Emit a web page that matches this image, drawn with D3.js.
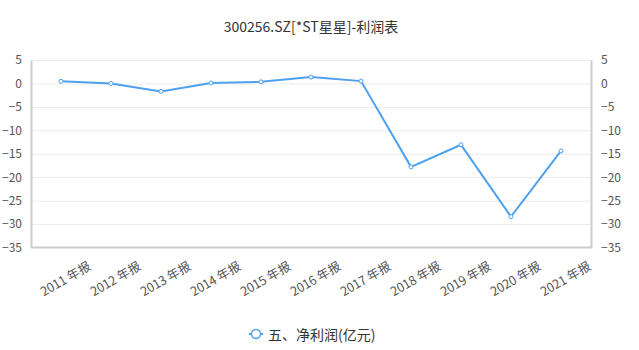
<!DOCTYPE html>
<html>
<head>
<meta charset="utf-8">
<script src="https://cdn.jsdelivr.net/npm/d3@7"></script>
<style>
  body { margin: 0; background: #fff; }
  svg { font-family: "Microsoft YaHei", "Noto Sans CJK SC", sans-serif; }
</style>
</head>
<body>
<div id="chart"></div>
<script>
// data
var years = ["2011 年报", "2012 年报", "2013 年报", "2014 年报", "2015 年报", "2016 年报",
             "2017 年报", "2018 年报", "2019 年报", "2020 年报", "2021 年报"];
var netProfit = [0.45, 0.0, -1.7, 0.1, 0.35, 1.35, 0.5, -17.8, -13.1, -28.4, -14.4];
var yTicks = [5, 0, -5, -10, -15, -20, -25, -30, -35];

var width = 639, height = 350;
var plotLeft = 31, plotRight = 591, plotTop = 60, plotBottom = 247.5;
var color = "#4ea1ef";

var svg = d3.select("#chart").append("svg")
  .attr("width", width)
  .attr("height", height);

var x = d3.scalePoint().domain(years).range([plotLeft, plotRight]).padding(0.6);
var y = d3.scaleLinear().domain([-35, 5]).range([plotBottom, plotTop]);

// title
svg.append("text")
  .attr("x", 311).attr("y", 32)
  .attr("text-anchor", "middle")
  .attr("font-size", "14px")
  .style("fill", "#333")
  .text("300256.SZ[*ST星星]-利润表");

// grid
svg.append("g").selectAll("line")
  .data(yTicks.filter(function(d){ return d != -35; }))
  .enter().append("line")
  .attr("x1", plotLeft).attr("x2", plotRight)
  .attr("y1", function(d){ return y(d) + 0.5; })
  .attr("y2", function(d){ return y(d) + 0.5; })
  .style("stroke", "#ebebeb");

// axes
var yl = svg.append("g").attr("transform", "translate(" + plotLeft + ",0)")
  .call(d3.axisLeft(y).tickValues(yTicks).tickSize(0).tickPadding(9));
var yr = svg.append("g").attr("transform", "translate(" + plotRight + ",0)")
  .call(d3.axisRight(y).tickValues(yTicks).tickSize(0).tickPadding(10));
[yl, yr].forEach(function(g){
  g.select(".domain").style("stroke", "#ccc").style("stroke-width", 2);
  g.selectAll("text").attr("font-size", "12px").style("fill", "#555")
    .attr("font-family", "\"Microsoft YaHei\", \"Noto Sans CJK SC\", sans-serif");
});

svg.append("line")
  .attr("x1", plotLeft).attr("x2", plotRight + 1)
  .attr("y1", plotBottom).attr("y2", plotBottom)
  .style("stroke", "#ccc").style("stroke-width", 2);

// x labels
svg.append("g").selectAll("text")
  .data(years)
  .enter().append("text")
  .attr("transform", function(d){ return "translate(" + (x(d) + 28) + ",264) rotate(-30)"; })
  .attr("text-anchor", "end")
  .attr("dominant-baseline", "central")
  .attr("font-size", "12.5px")
  .style("fill", "#555")
  .text(function(d){ return d; });

// line
var line = d3.line()
  .x(function(d, i){ return x(years[i]); })
  .y(function(d){ return y(d); });

svg.append("path")
  .datum(netProfit)
  .attr("d", line)
  .style("fill", "none")
  .style("stroke", color)
  .style("stroke-width", 2);

svg.append("g").selectAll("circle")
  .data(netProfit)
  .enter().append("circle")
  .attr("cx", function(d, i){ return x(years[i]); })
  .attr("cy", function(d){ return y(d); })
  .attr("r", 2)
  .style("fill", "#fff")
  .style("stroke", color)
  .style("stroke-width", 1);

// legend
var lg = svg.append("g").attr("transform", "translate(249,334)");
lg.append("line").attr("x1", 0).attr("x2", 14).attr("y1", 0).attr("y2", 0)
  .style("stroke", color).style("stroke-width", 2);
lg.append("circle").attr("cx", 7).attr("cy", 0).attr("r", 4.5)
  .style("fill", "#fff").style("stroke", color).style("stroke-width", 1.5);
lg.append("text").attr("x", 19).attr("y", 0)
  .attr("dominant-baseline", "central")
  .attr("font-size", "14px")
  .style("fill", "#333")
  .text("五、净利润(亿元)");
</script>
</body>
</html>
